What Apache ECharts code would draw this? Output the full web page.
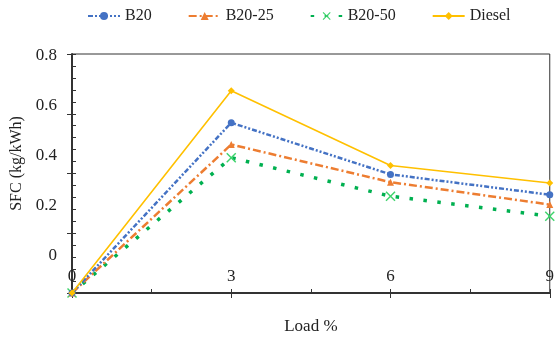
<!DOCTYPE html>
<html>
<head>
<meta charset="utf-8">
<script src="https://cdn.jsdelivr.net/npm/echarts@6/dist/echarts.min.js"></script>
<style>
	html, body { margin: 0; padding: 0; background: #fff; }
	#main { width: 557px; height: 340px; }
</style>
</head>
<body>
<div id="main"></div>
<script>
	// 数据
	let loads = [0, 3, 6, 9];
	let b20 = [0, 0.57, 0.397, 0.329];
	let b2025 = [0, 0.497, 0.371, 0.296];
	let b2050 = [0, 0.453, 0.324, 0.257];
	let diesel = [0, 0.677, 0.427, 0.368];
	let yLabels = [0, 0.2, 0.4, 0.6, 0.8];

	let font = 'Liberation Serif';
	let axisColor = '#333';

	function pairs(arr) {
		return loads.map((x, i) => [x, arr[i]]);
	}

	let crossPath = 'path://M0,1L1,0L5,4L9,0L10,1L6,5L10,9L9,10L5,6L1,10L0,9L4,5Z';

	let myChart = echarts.init(document.getElementById('main'));
	let option = {
		animation: false,
		textStyle: { fontFamily: font },
		legend: {
			left: 82,
			top: 3,
			itemWidth: 32,
			itemHeight: 10,
			itemGap: 36,
			textStyle: { fontFamily: font, fontSize: 16, color: '#222' },
			data: ['B20', 'B20-25', 'B20-50', 'Diesel']
		},
		grid: {
			left: 72,
			right: 2,
			top: 54,
			bottom: 47,
			show: true,
			borderColor: axisColor,
			borderWidth: 1
		},
		xAxis: [{
			type: 'value',
			min: 0,
			max: 9,
			interval: 3,
			name: 'Load %',
			nameLocation: 'middle',
			nameGap: 25,
			nameTextStyle: { fontFamily: font, fontSize: 17, color: '#222' },
			axisLine: { show: true, onZero: false, lineStyle: { color: axisColor, width: 2 } },
			axisTick: { show: true, inside: false, length: 5, lineStyle: { color: axisColor } },
			axisLabel: { inside: true, margin: 8, fontFamily: font, fontSize: 17, color: '#222' },
			splitLine: { show: false }
		}, {
			// 内侧刻度
			type: 'value',
			min: 0,
			max: 9,
			interval: 1.5,
			position: 'bottom',
			axisLine: { show: false },
			axisTick: { show: true, inside: true, length: 4, lineStyle: { color: axisColor } },
			axisLabel: { show: false },
			splitLine: { show: false }
		}],
		yAxis: [{
			type: 'value',
			min: 0,
			max: 0.8,
			interval: 0.04,
			axisLine: { show: true, onZero: false, lineStyle: { color: axisColor, width: 2 } },
			axisTick: { show: true, inside: true, length: 4, lineStyle: { color: axisColor } },
			axisLabel: { show: false },
			splitLine: { show: false }
		}, {
			type: 'value',
			min: 0,
			max: 0.8,
			interval: 0.2,
			position: 'left',
			axisLine: { show: false },
			axisTick: { show: true, inside: false, length: 5, lineStyle: { color: axisColor } },
			axisLabel: { show: false },
			splitLine: { show: false }
		}, {
			// 标签轴
			type: 'value',
			min: -0.148,
			max: 0.808,
			position: 'left',
			name: 'SFC (kg/kWh)',
			nameLocation: 'middle',
			nameGap: 46,
			nameTextStyle: { fontFamily: font, fontSize: 16, color: '#222', padding: [0, 0, 0, 20] },
			axisLine: { show: false },
			axisTick: { show: false },
			axisLabel: {
				customValues: yLabels,
				margin: 15,
				fontFamily: font,
				fontSize: 17,
				color: '#222'
			},
			splitLine: { show: false }
		}],
		series: [{
			name: 'B20',
			type: 'line',
			data: pairs(b20),
			symbol: 'circle',
			symbolSize: 7,
			color: '#4472C4',
			lineStyle: { width: 2.5, type: [5, 2, 2, 2, 2, 2] },
			z: 3
		}, {
			name: 'B20-25',
			type: 'line',
			data: pairs(b2025),
			symbol: 'triangle',
			symbolSize: 7,
			color: '#ED7D31',
			lineStyle: { width: 2.5, type: [8, 3, 2, 3] },
			z: 2
		}, {
			name: 'B20-50',
			type: 'line',
			data: pairs(b2050),
			symbol: crossPath,
			symbolSize: 10,
			color: '#00B050',
			itemStyle: { color: '#3DD36B' },
			lineStyle: { color: '#00B050', width: 3.5, type: [3.5, 10.5] },
			z: 1
		}, {
			name: 'Diesel',
			type: 'line',
			data: pairs(diesel),
			symbol: 'diamond',
			symbolSize: 7,
			color: '#FFC000',
			lineStyle: { width: 1.6 },
			z: 4
		}]
	};
	myChart.setOption(option);
</script>
</body>
</html>
